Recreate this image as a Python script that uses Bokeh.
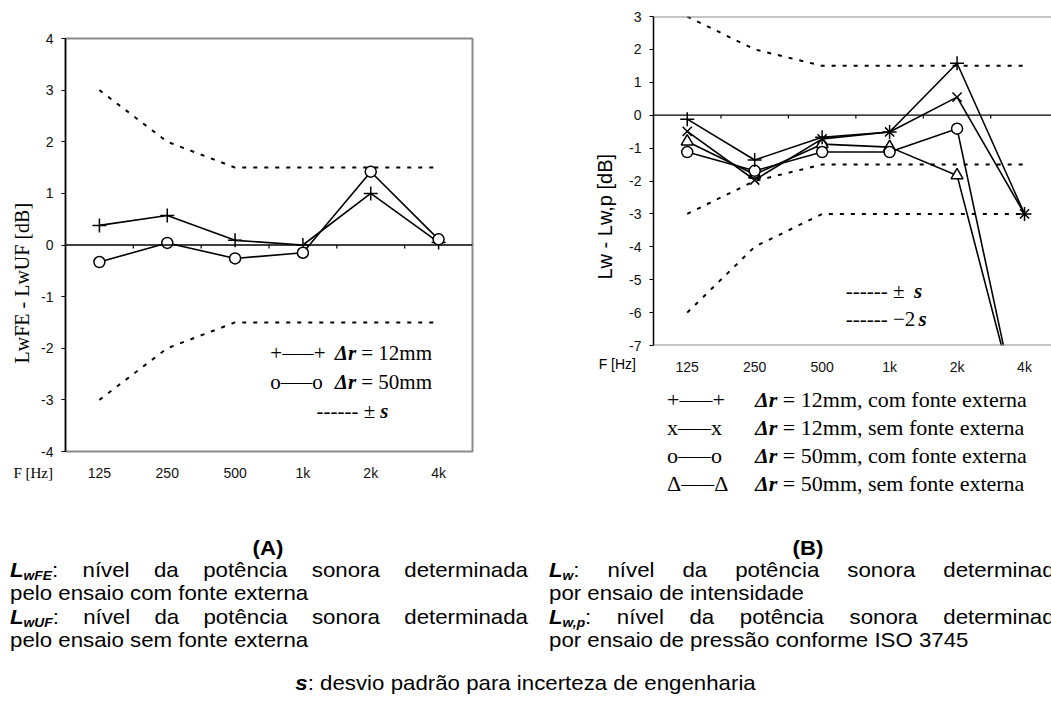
import numpy as np
from bokeh.plotting import figure
from bokeh.models import FixedTicker, Span, Label, Div, Title
from bokeh.layouts import column, row
from bokeh.embed import file_html
from bokeh.resources import INLINE

# Octave-band centre frequencies (category axis)
freqs = ["125", "250", "500", "1k", "2k", "4k"]

# (A) LwFE - LwUF [dB]
a_dr12 = [0.38, 0.57, 0.09, 0.00, 1.00, 0.05]
a_dr50 = [-0.33, 0.04, -0.26, -0.15, 1.42, 0.11]
a_s_upper = [3.0, 2.0, 1.5, 1.5, 1.5, 1.5]
a_s_lower = [-3.0, -2.0, -1.5, -1.5, -1.5, -1.5]
a_yticks = [-4, -3, -2, -1, 0, 1, 2, 3, 4]

# (B) Lw - Lw,p [dB]
b_dr12_com = [-0.12, -1.36, -0.67, -0.51, 1.58, -3.00]
b_dr12_sem = [-0.49, -1.97, -0.72, -0.51, 0.55, -3.00]
b_dr50_com = [-1.12, -1.69, -1.12, -1.12, -0.41, -10.0]
b_dr50_sem = [-0.80, -1.80, -0.88, -0.97, -1.83, -9.7]
b_s_upper = [3.0, 2.0, 1.5, 1.5, 1.5, 1.5]
b_s_lower = [-3.0, -2.0, -1.5, -1.5, -1.5, -1.5]
b_2s_lower = [-6.0, -4.0, -3.0, -3.0, -3.0, -3.0]
b_yticks = [-7, -6, -5, -4, -3, -2, -1, 0, 1, 2, 3]

SERIF = "Liberation Serif"
SANS = "Liberation Sans"
DASH = "4 7"

x = np.arange(len(freqs))
bounds = np.arange(len(freqs) - 1) + 0.5


def base_figure(width, height, x_end, y_range, yticks, borders):
    left, right, top, bottom = borders
    p = figure(width=width, height=height, x_range=(-0.5, x_end), y_range=y_range,
               output_backend="svg", toolbar_location=None,
               min_border_left=left, min_border_right=right,
               min_border_top=top, min_border_bottom=bottom,
               background_fill_color="white", border_fill_color="white")
    p.grid.visible = False
    p.outline_line_color = None

    ya = p.yaxis[0]
    ya.ticker = FixedTicker(ticks=yticks)
    ya.major_label_overrides = {t: str(t) for t in yticks}
    ya.axis_line_color = "black"
    ya.axis_line_width = 1.5
    ya.major_tick_line_color = "black"
    ya.major_tick_out = 4
    ya.major_tick_in = 0
    ya.minor_tick_line_color = None
    ya.major_label_standoff = 8
    ya.major_label_text_font = SANS
    ya.major_label_text_font_size = "14px"
    ya.major_label_text_color = "#111111"

    xa = p.xaxis[0]
    xa.ticker = FixedTicker(ticks=list(x))
    xa.major_label_overrides = {int(i): f for i, f in zip(x, freqs)}
    xa.axis_line_color = None
    xa.major_tick_line_color = None
    xa.minor_tick_line_color = None
    xa.major_label_standoff = 7
    xa.major_label_text_font = SANS
    xa.major_label_text_font_size = "14px"
    xa.major_label_text_color = "#111111"

    # zero line
    p.add_layout(Span(location=0, dimension="width", line_color="black", line_width=1.3))
    return p


def series(p, ys, marker, size):
    p.line(x, ys, line_color="black", line_width=1.6)
    p.scatter(x, ys, marker=marker, size=size, line_color="black",
              fill_color="white", line_width=1.5)


def label(p, xx, yy, text, size="21px", style="normal"):
    p.add_layout(Label(x=xx, y=yy, text=text, text_font=SERIF, text_font_size=size,
                       text_font_style=style, text_align="left", text_baseline="middle",
                       text_color="black"))


def side_title(p, text, font, size, offset, standoff):
    p.add_layout(Title(text=text, align="left", offset=offset, standoff=standoff,
                       vertical_align="middle", text_font=font, text_font_size=size,
                       text_font_style="normal", text_color="black"), "left")


# ---------------- (A) ----------------
pa = base_figure(525, 500, 5.5, (-4, 4), a_yticks, (65, 53, 38, 49))
pa.outline_line_color = "#8a8a8a"
pa.outline_line_width = 2
pa.segment(x0=bounds, y0=0, x1=bounds, y1=-0.07, line_color="black", line_width=1.2)
pa.line(x, a_s_upper, line_color="black", line_width=2, line_dash=DASH)
pa.line(x, a_s_lower, line_color="black", line_width=2, line_dash=DASH)
series(pa, a_dr12, "cross", 14)
series(pa, a_dr50, "circle", 11)

label(pa, 2.52, -2.10, "+—–+")
label(pa, 3.47, -2.10, "Δr", style="bold italic")
label(pa, 3.86, -2.10, "= 12mm")
label(pa, 2.52, -2.66, "o—–o")
label(pa, 3.47, -2.66, "Δr", style="bold italic")
label(pa, 3.86, -2.66, "= 50mm")
label(pa, 3.20, -3.21, "------ ±")
label(pa, 4.14, -3.21, "s", style="bold italic")

side_title(pa, "LwFE - LwUF [dB]", SERIF, "20px", 88, 10)

# ---------------- (B) ----------------
pb = base_figure(526, 380, 5.4, (-7, 3), b_yticks, (128, 0, 16, 35))
pb.add_layout(Span(location=3, dimension="width", line_color="#8a8a8a", line_width=2))
pb.add_layout(Span(location=-7, dimension="width", line_color="#8a8a8a", line_width=2))
pb.segment(x0=bounds, y0=0, x1=bounds, y1=-0.1, line_color="black", line_width=1.2)
pb.line(x, b_s_upper, line_color="black", line_width=2, line_dash=DASH)
pb.line(x, b_s_lower, line_color="black", line_width=2, line_dash=DASH)
pb.line(x, b_2s_lower, line_color="black", line_width=2, line_dash=DASH)
series(pb, b_dr50_sem, "triangle", 12)
series(pb, b_dr50_com, "circle", 11)
series(pb, b_dr12_sem, "x", 13)
series(pb, b_dr12_com, "cross", 14)

label(pb, 2.35, -5.33, "------ ±")
label(pb, 3.36, -5.33, "s", style="bold italic")
label(pb, 2.35, -6.18, "------ −2")
label(pb, 3.43, -6.18, "s", style="bold italic")

side_title(pb, "Lw - Lw,p [dB]", SANS, "20px", 66, 20)

# legend rows under chart (B)
legend_rows = [("+—–+", "= 12mm, com fonte externa"),
               ("x—–x", "= 12mm, sem fonte externa"),
               ("o—–o", "= 50mm, com fonte externa"),
               ("Δ—–Δ", "= 50mm, sem fonte externa")]
leg_html = ['<div style="position:relative;width:526px;height:120px;'
            "font-family:'Liberation Serif','Times New Roman',serif;font-size:22px;color:#000;\">",
            "<div style=\"position:absolute;left:0;width:111px;top:-24px;line-height:16px;"
            "text-align:right;font-family:'Liberation Sans',Arial,sans-serif;font-size:14px;\">F [Hz]</div>"]
for i, (sym_txt, desc) in enumerate(legend_rows):
    top = 6 + 28 * i
    leg_html.append(f'<div style="position:absolute;left:142px;top:{top}px;line-height:28px;white-space:nowrap;">{sym_txt}</div>')
    leg_html.append(f'<div style="position:absolute;left:230px;top:{top}px;line-height:28px;white-space:nowrap;">'
                    f'<b><i>Δr</i></b> {desc}</div>')
leg_html.append("</div>")
legdiv = Div(text="".join(leg_html), width=526, height=120, margin=0)


# ---------------- captions ----------------
SCALE = 1.06
BLOCK_W = 518


def line_div(left, top, html, justify=False):
    align = "text-align:justify;text-align-last:justify;" if justify else "white-space:nowrap;"
    return (f'<div style="position:absolute;left:{left}px;top:{top}px;width:{BLOCK_W / SCALE:.1f}px;'
            f'transform:scaleX({SCALE});transform-origin:0 0;line-height:23px;{align}">{html}</div>')


def sym(main, sub):
    return (f'<b><i>{main}<span style="font-size:13px;line-height:0;vertical-align:-3px">'
            f'{sub}</span></i></b>')


caption = (
    '<div style="position:relative;width:1051px;height:210px;'
    "font-family:'Liberation Sans',Arial,sans-serif;font-size:21px;color:#000;\">"
    "<div style=\"position:absolute;left:0;width:53px;top:-35px;line-height:16px;text-align:right;"
    "font-family:'Liberation Serif','Times New Roman',serif;font-size:15px;\">F [Hz]</div>"
    f'<div style="position:absolute;left:0;width:536px;top:36px;text-align:center;font-weight:bold;line-height:23px;'
    f'transform:scaleX({SCALE});transform-origin:268px 0;">(A)</div>'
    f'<div style="position:absolute;left:565px;width:486px;top:36px;text-align:center;font-weight:bold;line-height:23px;'
    f'transform:scaleX({SCALE});transform-origin:243px 0;">(B)</div>'
    + line_div(10, 58, sym("L", "wFE") + ": nível da potência sonora determinada", True)
    + line_div(10, 81, "pelo ensaio com fonte externa")
    + line_div(10, 105, sym("L", "wUF") + ": nível da potência sonora determinada", True)
    + line_div(10, 128, "pelo ensaio sem fonte externa")
    + line_div(549, 58, sym("L", "w") + ": nível da potência sonora determinada", True)
    + line_div(549, 81, "por ensaio de intensidade")
    + line_div(549, 105, sym("L", "w,p") + ": nível da potência sonora determinada", True)
    + line_div(549, 128, "por ensaio de pressão conforme ISO 3745")
    + f'<div style="position:absolute;left:0;width:1051px;top:171px;text-align:center;line-height:23px;'
      f'transform:scaleX({SCALE});transform-origin:525px 0;">'
      '<b><i>s</i></b>: desvio padrão para incerteza de engenharia</div>'
    '</div>'
)
cap = Div(text=caption, width=1051, height=210, margin=0)

layout = column(row(pa, column(pb, legdiv)), cap)
open("out.html", "w").write(file_html(layout, INLINE))
